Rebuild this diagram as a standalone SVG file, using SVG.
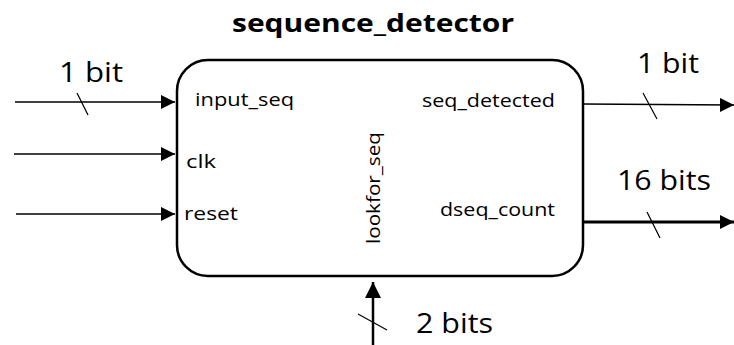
<svg xmlns="http://www.w3.org/2000/svg" width="734" height="345" viewBox="0 0 734 345">
<style>
.t{font-family:"Open Sans","Liberation Sans",sans-serif;fill:#000}
.lbl{font-size:19px}
.big{font-size:28px}
.title{font-size:25px;font-weight:bold}
.w{stroke:#000;fill:none}
</style>
<defs>
<marker id="ah" markerUnits="userSpaceOnUse" markerWidth="16" markerHeight="16" refX="14" refY="7" orient="auto">
<path d="M0,0 L14,7 L0,14 z" fill="#000"/>
</marker>
<marker id="ahb" markerUnits="userSpaceOnUse" markerWidth="18" markerHeight="18" refX="16" refY="8" orient="auto">
<path d="M0,0 L16,8 L0,16 z" fill="#000"/>
</marker>
</defs>
<text class="t title" x="232" y="32" textLength="282" lengthAdjust="spacingAndGlyphs">sequence_detector</text>
<g id="sequence_detector">
<rect x="177" y="60" width="406" height="216" rx="31" ry="31" fill="#fff" stroke="#000" stroke-width="2.5"/>
<text class="t lbl" x="195" y="106" textLength="99" lengthAdjust="spacingAndGlyphs">input_seq</text>
<text class="t lbl" x="186" y="168" textLength="30" lengthAdjust="spacingAndGlyphs">clk</text>
<text class="t lbl" x="184" y="220" textLength="54" lengthAdjust="spacingAndGlyphs">reset</text>
<text class="t lbl" x="555" y="107" text-anchor="end" textLength="133" lengthAdjust="spacingAndGlyphs">seq_detected</text>
<text class="t lbl" x="555" y="216" text-anchor="end" textLength="115" lengthAdjust="spacingAndGlyphs">dseq_count</text>
<text class="t lbl" transform="translate(380,188) rotate(-90)" x="0" y="0" text-anchor="middle" textLength="112" lengthAdjust="spacingAndGlyphs">lookfor_seq</text>
</g>
<g id="connectors">
<line class="w" x1="15" y1="102" x2="175" y2="102" stroke-width="1.5" marker-end="url(#ah)"/>
<line class="w" x1="77" y1="93" x2="88" y2="115" stroke-width="1.2"/>
<line class="w" x1="14" y1="154" x2="175" y2="154" stroke-width="1.5" marker-end="url(#ah)"/>
<line class="w" x1="16" y1="214" x2="175" y2="214" stroke-width="1.5" marker-end="url(#ah)"/>
<line class="w" x1="583" y1="104" x2="734" y2="105" stroke-width="1.5" marker-end="url(#ah)"/>
<line class="w" x1="643" y1="93" x2="657" y2="119" stroke-width="1.2"/>
<line class="w" x1="583" y1="222" x2="734" y2="222" stroke-width="3" marker-end="url(#ah)"/>
<line class="w" x1="647" y1="212" x2="660" y2="238" stroke-width="1.2"/>
<line class="w" x1="373" y1="345" x2="373" y2="282" stroke-width="2.5" marker-end="url(#ahb)"/>
<line class="w" x1="358" y1="314" x2="387" y2="330" stroke-width="1.2"/>
</g>
<text class="t big" x="59" y="82" textLength="64" lengthAdjust="spacingAndGlyphs">1 bit</text>
<text class="t big" x="637" y="73" textLength="62" lengthAdjust="spacingAndGlyphs">1 bit</text>
<text class="t big" x="617" y="190" textLength="94" lengthAdjust="spacingAndGlyphs">16 bits</text>
<text class="t big" x="416" y="333" textLength="77" lengthAdjust="spacingAndGlyphs">2 bits</text>
</svg>
